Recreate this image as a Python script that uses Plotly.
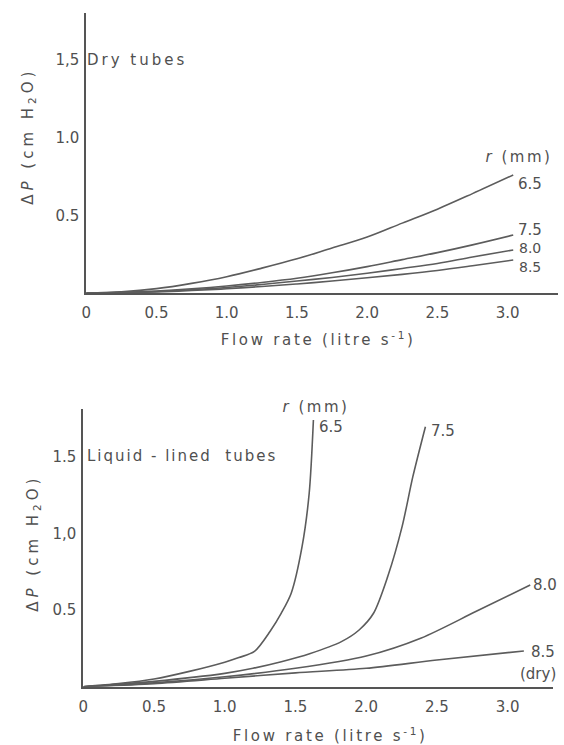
import plotly.graph_objects as go

W, H = 564, 745

# ---------------- data: dry tubes (top panel) ----------------
dry_x = [0, 0.25, 0.5, 0.75, 1.0, 1.25, 1.5, 1.75, 2.0, 2.25, 2.5, 2.75, 3.04]
dry_65 = [0, 0.008, 0.028, 0.062, 0.105, 0.16, 0.22, 0.29, 0.36, 0.45, 0.54, 0.64, 0.76]
dry_75 = [0, 0.004, 0.013, 0.027, 0.045, 0.068, 0.095, 0.13, 0.17, 0.215, 0.26, 0.31, 0.373]
dry_80 = [0, 0.003, 0.01, 0.021, 0.035, 0.055, 0.077, 0.1, 0.127, 0.158, 0.19, 0.232, 0.277]
dry_85 = [0, 0.002, 0.007, 0.016, 0.027, 0.042, 0.058, 0.077, 0.098, 0.12, 0.145, 0.175, 0.212]

# ---------------- data: liquid-lined tubes (bottom panel) ----------------
liq_65_x = [0, 0.25, 0.5, 0.75, 1.0, 1.1, 1.21, 1.32, 1.40, 1.47, 1.546, 1.597, 1.627]
liq_65_y = [0, 0.02, 0.05, 0.1, 0.16, 0.19, 0.23, 0.36, 0.48, 0.61, 0.91, 1.26, 1.74]
liq_75_x = [0, 0.5, 1.0, 1.2, 1.4, 1.6, 1.825, 1.95, 2.052, 2.153, 2.254, 2.33, 2.419]
liq_75_y = [0, 0.035, 0.087, 0.12, 0.163, 0.215, 0.294, 0.37, 0.479, 0.72, 1.044, 1.37, 1.696]
liq_80_x = [0, 0.5, 1.0, 1.5, 2.0, 2.39, 2.775, 3.16]
liq_80_y = [0, 0.025, 0.065, 0.12, 0.2, 0.318, 0.49, 0.663]
liq_85_x = [0, 0.5, 1.0, 1.5, 2.0, 2.5, 3.115]
liq_85_y = [0, 0.02, 0.055, 0.09, 0.12, 0.174, 0.233]

x_tickvals = [0, 0.5, 1.0, 1.5, 2.0, 2.5, 3.0]
x_ticktext = ["0", "0.5", "1.0", "1.5", "2.0", "2.5", "3.0"]
y_tickvals = [0.5, 1.0, 1.5]
y_ticktext_top = ["0.5", "1.0", "1,5"]
y_ticktext_bot = ["0.5", "1,0", "1.5"]

LINE = "#5c5c5c"
TXT = "#505050"
FONT = "DejaVu Sans"
FS = 15


def px(x, y):
    return x / W, 1 - y / H


fig = go.Figure()

for ys in [dry_65, dry_75, dry_80, dry_85]:
    fig.add_trace(go.Scatter(x=dry_x, y=ys, mode="lines", xaxis="x", yaxis="y",
                             line=dict(color=LINE, width=1.6, shape="spline", smoothing=1.0),
                             showlegend=False, hoverinfo="skip"))

for xs, ys in [(liq_65_x, liq_65_y), (liq_75_x, liq_75_y), (liq_80_x, liq_80_y), (liq_85_x, liq_85_y)]:
    fig.add_trace(go.Scatter(x=xs, y=ys, mode="lines", xaxis="x2", yaxis="y2",
                             line=dict(color=LINE, width=1.6, shape="spline", smoothing=0.8),
                             showlegend=False, hoverinfo="skip"))

axis_common = dict(showgrid=False, zeroline=False, showline=True, linecolor="#555555",
                   linewidth=1.8, ticks="", tickfont=dict(family=FONT, size=FS, color=TXT),
                   fixedrange=True)

fig.update_layout(
    xaxis=dict(domain=[82 / W, 558 / W], range=[0, (558 - 82) / 141.7], anchor="y",
               tickvals=x_tickvals, ticktext=x_ticktext, ticklabelstandoff=5, **axis_common),
    yaxis=dict(domain=[1 - 293 / H, 1 - 13 / H], range=[0, (293 - 13) / 155.3], anchor="x",
               tickvals=y_tickvals, ticktext=y_ticktext_top, ticklabelstandoff=2, **axis_common),
    xaxis2=dict(domain=[79 / W, 553 / W], range=[0, (553 - 79) / 142.7], anchor="y2",
                tickvals=x_tickvals, ticktext=x_ticktext, ticklabelstandoff=5, **axis_common),
    yaxis2=dict(domain=[1 - 686.7 / H, 1 - 409 / H], range=[0, (686.7 - 409) / 153.3], anchor="x2",
                tickvals=y_tickvals, ticktext=y_ticktext_bot, ticklabelstandoff=2, **axis_common),
)

ann = []


def add(text, x, y, angle=0, xanchor="center", size=FS):
    ax, ay = px(x, y)
    ann.append(dict(text=text, x=ax, y=ay, xref="paper", yref="paper", showarrow=False,
                    xanchor=xanchor, yanchor="middle", textangle=angle,
                    align="left" if xanchor == "left" else "center",
                    font=dict(family=FONT, size=size, color=TXT)))


# top panel texts
add("Dry tubes", 81, 60, xanchor="left")
add("<i>r</i> (mm)", 519, 157)
add("6.5", 530, 184)
add("7.5", 530, 230)
add("8.0", 530, 248, size=14)
add("8.5", 530, 267, size=14)
add("Δ<i>P</i> (cm H<sub>2</sub>O)", 23, 136, angle=-90)
add("Flow rate (litre s<sup>-1</sup>)", 316, 339)

# bottom panel texts
add("Liquid - lined  tubes", 81, 456, xanchor="left")
add("<i>r</i> (mm)", 314, 407)
add("6.5", 329, 427)
add("7.5", 442, 431)
add("8.0", 545, 585)
add("8.5", 543, 652)
add("(dry)", 538, 674)
add("Δ<i>P</i> (cm H<sub>2</sub>O)", 28, 543, angle=-90)
add("Flow rate (litre s<sup>-1</sup>)", 328, 735)

fig.update_layout(
    annotations=ann,
    width=W, height=H,
    margin=dict(l=0, r=0, t=0, b=0),
    paper_bgcolor="white", plot_bgcolor="white",
    showlegend=False,
)

post = """
document.body.style.margin='0px';
document.body.style.overflow='hidden';
var spacing = [['tubes', 3], ['Liquid', 2], ['Flow', 2.7], ['cm', 4], ['mm', 2.5]];
document.querySelectorAll('text.annotation-text').forEach(function(t) {
  var s = t.textContent;
  spacing.forEach(function(p) {
    if (s.indexOf(p[0]) >= 0) { t.style.letterSpacing = p[1] + 'px'; }
  });
});
"""

fig.write_html("out.html", config={"displayModeBar": False}, post_script=post)
